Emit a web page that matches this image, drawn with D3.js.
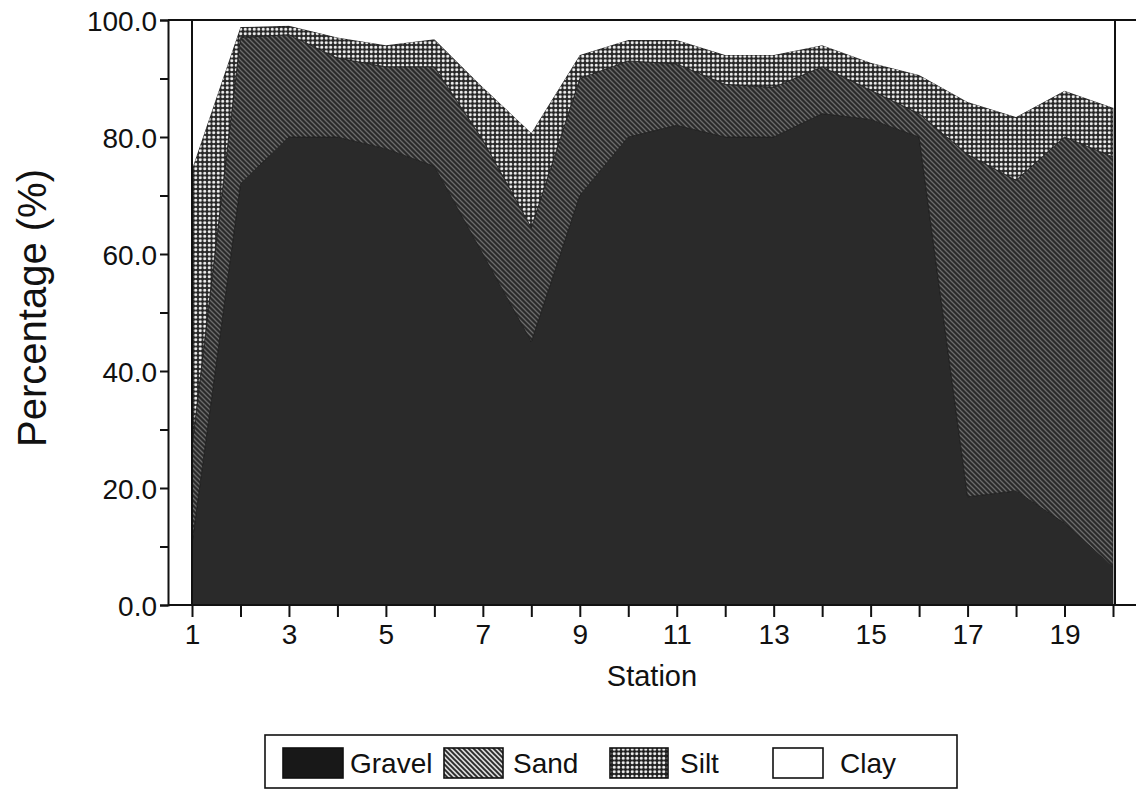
<!DOCTYPE html>
<html>
<head>
<meta charset="utf-8">
<script src="https://cdn.jsdelivr.net/npm/d3@7"></script>
<style>
  html, body { margin: 0; padding: 0; background: #fff; }
  svg { display: block; }
  text { font-family: "Liberation Sans", Arial, Helvetica, sans-serif; fill: #111; }
</style>
</head>
<body>
<svg id="chart" width="1136" height="792"></svg>
<script>
// Sediment composition (%) at each sampling station
const stations = [1,2,3,4,5,6,7,8,9,10,11,12,13,14,15,16,17,18,19,20];
const gravel = [10.5, 72, 80, 80, 78, 75, 60, 45, 70, 80, 82, 80, 80, 84, 83, 80, 18.5, 19.5, 14, 6.5];
const sand   = [16.5, 25, 17.5, 13.5, 14, 17, 19.5, 19.5, 20, 13, 10.5, 9, 8.5, 8, 5, 4, 58.5, 53.1, 66, 70.1];
const silt   = [47.5, 1.8, 1.5, 3.5, 3.7, 4.7, 9.0, 16.2, 4.0, 3.6, 4.1, 5.0, 5.5, 3.7, 4.7, 6.6, 9.0, 10.8, 7.9, 8.4];
const clay   = [25.5, 1.2, 1.0, 3.0, 4.3, 3.3, 11.5, 19.3, 6.0, 3.4, 3.4, 6.0, 6.0, 4.3, 7.3, 9.4, 14.0, 16.6, 12.1, 15.0];

const fractions = ["Gravel", "Sand", "Silt", "Clay"];
const yMajorTicks = [0, 20, 40, 60, 80, 100];
const yMinorTicks = [10, 30, 50, 70, 90];
const xLabelTicks = [1, 3, 5, 7, 9, 11, 13, 15, 17, 19];

const rows = stations.map((s, i) => ({
  station: s, Gravel: gravel[i], Sand: sand[i], Silt: silt[i], Clay: clay[i]
}));

const svg = d3.select("#chart");

// Fill patterns for each fraction
const defs = svg.append("defs");
function hatch(id, bg, fg, w) {
  const p = defs.append("pattern").attr("id", id)
    .attr("patternUnits", "userSpaceOnUse").attr("width", 5).attr("height", 5);
  p.append("rect").attr("width", 5).attr("height", 5).attr("fill", bg);
  p.append("path").attr("d", "M-1,-1 L6,6 M-1,4 L1,6 M4,-1 L6,1")
    .attr("stroke", fg).attr("stroke-width", w);
}
hatch("pat-sand", "#2a2a2a", "#6c6c6c", 1.3);
hatch("leg-sand", "#d8d8d8", "#2a2a2a", 1.9);

function dots(id, size, dot, bg) {
  const p = defs.append("pattern").attr("id", id)
    .attr("patternUnits", "userSpaceOnUse").attr("width", size).attr("height", size);
  p.append("rect").attr("width", size).attr("height", size).attr("fill", bg);
  p.append("circle").attr("cx", size / 2).attr("cy", size / 2).attr("r", dot).attr("fill", "#f2f2f2");
}
dots("pat-silt", 4.5, 1.55, "#262626");
dots("leg-silt", 4.5, 1.55, "#1e1e1e");

const fills = {
  Gravel: "#2a2a2a",
  Sand: "url(#pat-sand)",
  Silt: "url(#pat-silt)",
  Clay: "#ffffff"
};

// Scales
const x = d3.scaleLinear().domain([1, 20]).range([192, 1113]);
const y = d3.scaleLinear().domain([0, 100]).range([605, 20]);

// Stacked areas
const series = d3.stack().keys(fractions)(rows);
const area = d3.area()
  .x(d => x(d.data.station))
  .y0(d => y(d[0]))
  .y1(d => y(d[1]));

svg.append("g").selectAll("path")
  .data(series)
  .join("path")
  .attr("d", area)
  .attr("fill", d => fills[d.key])
  .attr("stroke", d => d.key === "Clay" ? "none" : "#1e1e1e")
  .attr("stroke-width", 0.8);

// Frame lines
const frame = svg.append("g").attr("stroke", "#111").attr("stroke-width", 2).attr("fill", "none");
frame.append("line").attr("x1", 168).attr("x2", 1136).attr("y1", y(100)).attr("y2", y(100));
frame.append("line").attr("x1", x(1)).attr("x2", x(1)).attr("y1", y(100)).attr("y2", y(0));
frame.append("line").attr("x1", x(20) + 2).attr("x2", x(20) + 2).attr("y1", y(100)).attr("y2", y(0));

// Y axis
const yAxis = svg.append("g").attr("transform", "translate(168,0)")
  .call(d3.axisLeft(y).tickValues(yMajorTicks).tickSize(8).tickPadding(3)
    .tickFormat(d3.format(".1f")));
svg.append("g").attr("transform", "translate(168,0)")
  .call(d3.axisLeft(y).tickValues(yMinorTicks).tickSize(8).tickFormat(""))
  .call(g => g.select(".domain").remove());
yAxis.selectAll("text").attr("font-size", 28).attr("font-family", "Liberation Sans, Arial, sans-serif")
  .attr("fill", "#111").attr("dy", "0.36em");

// X axis
const xAxis = svg.append("g").attr("transform", `translate(0,${y(0)})`)
  .call(d3.axisBottom(x).tickValues(stations).tickSize(12).tickPadding(7)
    .tickFormat(d => xLabelTicks.includes(d) ? d : ""));
xAxis.select(".domain").remove();
xAxis.selectAll("text").attr("font-size", 28).attr("font-family", "Liberation Sans, Arial, sans-serif").attr("fill", "#111");
svg.append("line").attr("x1", 168).attr("x2", 1136).attr("y1", y(0)).attr("y2", y(0))
  .attr("stroke", "#111").attr("stroke-width", 2);

svg.selectAll(".domain, .tick line").attr("stroke", "#111").attr("stroke-width", 2);

// Axis titles
svg.append("text").attr("x", 652).attr("y", 686).attr("text-anchor", "middle")
  .attr("font-size", 29).text("Station");
svg.append("text").attr("transform", "translate(46,308) rotate(-90)")
  .attr("text-anchor", "middle").attr("font-size", 40).text("Percentage (%)");

// Legend
const legend = svg.append("g");
legend.append("rect").attr("x", 265).attr("y", 735).attr("width", 692).attr("height", 53)
  .attr("fill", "#fff").attr("stroke", "#111").attr("stroke-width", 1.6);
const legendItems = [
  { key: "Gravel", sx: 283, sw: 60, tx: 350, fill: "#181818" },
  { key: "Sand", sx: 444, sw: 59, tx: 513, fill: "url(#leg-sand)" },
  { key: "Silt", sx: 610, sw: 58, tx: 680, fill: "url(#leg-silt)" },
  { key: "Clay", sx: 773, sw: 50, tx: 840, fill: "#fff" }
];
legendItems.forEach(it => {
  legend.append("rect").attr("x", it.sx).attr("y", 748).attr("width", it.sw).attr("height", 30)
    .attr("fill", it.fill).attr("stroke", "#111").attr("stroke-width", 1.6);
  legend.append("text").attr("x", it.tx).attr("y", 773).attr("font-size", 28).text(it.key);
});
</script>
</body>
</html>
